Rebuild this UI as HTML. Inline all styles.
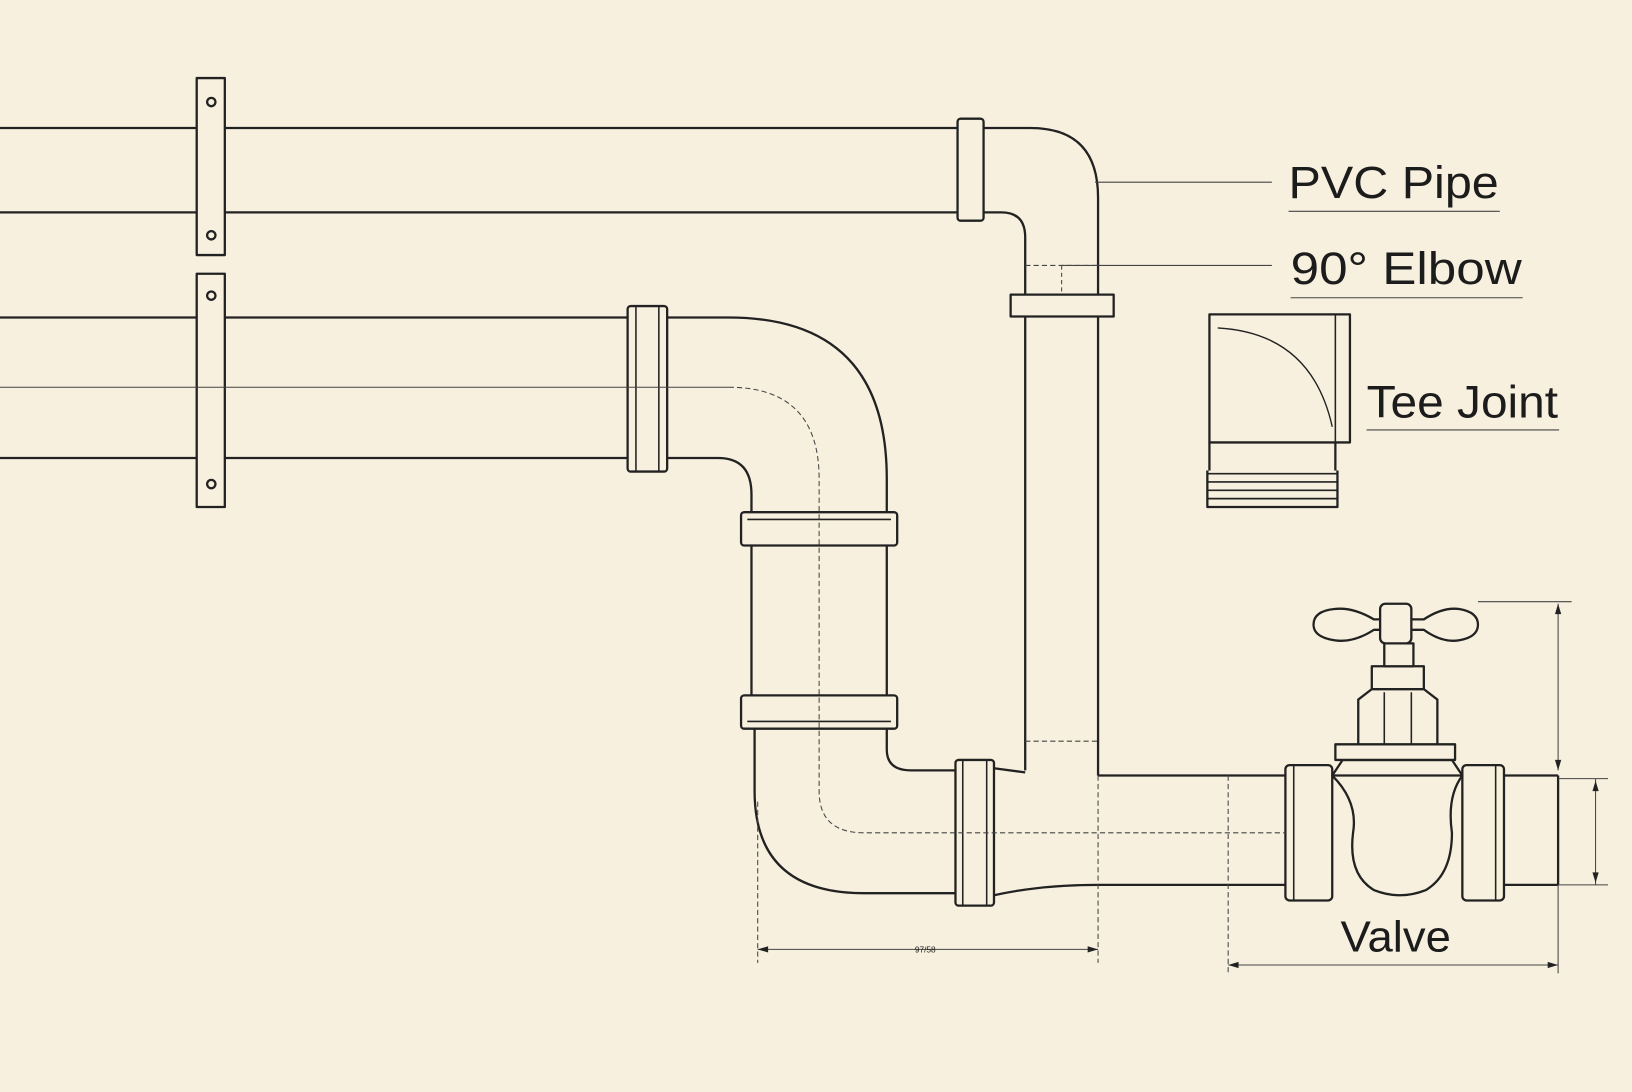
<!DOCTYPE html>
<html><head><meta charset="utf-8"><style>
html,body{margin:0;padding:0;background:#f7f0de;}
svg{display:block}
text{font-family:"Liberation Sans",sans-serif;fill:#1c1c1c}
</style></head><body>
<svg width="1632" height="1092" viewBox="0 0 1568 1049" preserveAspectRatio="none" xmlns="http://www.w3.org/2000/svg">
<rect width="1568" height="1049" fill="#f7f0de"/>
<g fill="none" stroke="#222" stroke-width="2.2" stroke-linejoin="round">
<line x1="0" y1="123" x2="920" y2="123"/>
<line x1="0" y1="204" x2="920" y2="204"/>
<rect x="189" y="75" width="27" height="170" fill="#f7f0de"/>
<circle cx="203" cy="98" r="4"/><circle cx="203" cy="226" r="4"/>
<rect x="920" y="114" width="25" height="98" rx="3" fill="#f7f0de"/>
<path d="M945 123 L990 123 Q1055 123 1055 190 L1055 745"/>
<path d="M945 204 L962 204 Q985 204 985 228 L985 740"/>
<rect x="971" y="283" width="99" height="21" fill="#f7f0de"/>
<line x1="0" y1="305" x2="603" y2="305"/>
<line x1="0" y1="440" x2="603" y2="440"/>
<rect x="189" y="263" width="27" height="224" fill="#f7f0de"/>
<circle cx="203" cy="284" r="4"/><circle cx="203" cy="465" r="4"/>
<rect x="603" y="294" width="38" height="159" rx="3" fill="#f7f0de"/>
<line x1="611" y1="294" x2="611" y2="453" stroke-width="1.5"/>
<line x1="633" y1="294" x2="633" y2="453" stroke-width="1.5"/>
<path d="M641 305 L700 305 Q852 305 852 460 L852 492"/>
<path d="M641 440 L690 440 Q722 440 722 475 L722 492"/>
<rect x="712" y="492" width="150" height="32" rx="3" fill="#f7f0de"/>
<line x1="718" y1="499" x2="856" y2="499" stroke-width="1.5"/>
<line x1="722" y1="524" x2="722" y2="668"/>
<line x1="852" y1="524" x2="852" y2="668"/>
<rect x="712" y="668" width="150" height="32" rx="3" fill="#f7f0de"/>
<line x1="718" y1="693" x2="856" y2="693" stroke-width="1.5"/>
<path d="M725 700 L725 760 Q725 858 830 858 L918 858"/>
<path d="M852 700 L852 720 Q852 740 875 740 L918 740"/>
<rect x="918" y="730" width="37" height="140" rx="3" fill="#f7f0de"/>
<line x1="925" y1="730" x2="925" y2="870" stroke-width="1.5"/>
<line x1="948" y1="730" x2="948" y2="870" stroke-width="1.5"/>
<path d="M955 738 L985 742 M1055 745 L1235 745"/>
<path d="M955 860 Q1000 850 1055 850 L1235 850"/>
<rect x="1235" y="735" width="45" height="130" rx="4" fill="#f7f0de"/>
<line x1="1243" y1="735" x2="1243" y2="865" stroke-width="1.5"/>
<rect x="1405" y="735" width="40" height="130" rx="4" fill="#f7f0de"/>
<line x1="1437" y1="735" x2="1437" y2="865" stroke-width="1.5"/>
<path d="M1280 745 Q1305 770 1300 800 Q1295 840 1320 855 Q1345 865 1370 855 Q1395 840 1395 800 Q1390 765 1405 745"/>
<path d="M1290 730 L1395 730 L1405 745 L1280 745 Z" fill="#f7f0de"/>
<rect x="1283" y="715" width="115" height="15" fill="#f7f0de"/>
<path d="M1305 715 L1305 672 L1318 662 L1368 662 L1381 672 L1381 715 Z" fill="#f7f0de"/>
<line x1="1330" y1="665" x2="1330" y2="715" stroke-width="1.5"/>
<line x1="1356" y1="665" x2="1356" y2="715" stroke-width="1.5"/>
<rect x="1318" y="640" width="50" height="22" fill="#f7f0de"/>
<rect x="1330" y="618" width="28" height="22" fill="#f7f0de"/>
<path d="M1320 605 Q1300 618 1282 615 Q1262 612 1262 600 Q1262 587 1282 585 Q1300 583 1320 595 L1368 595 Q1386 583 1402 585 Q1420 588 1420 600 Q1420 612 1402 615 Q1386 618 1368 605 Z" fill="#f7f0de"/>
<rect x="1326" y="580" width="30" height="38" rx="5" fill="#f7f0de"/>
<line x1="1445" y1="745" x2="1497" y2="745"/>
<line x1="1445" y1="850" x2="1497" y2="850"/>
<line x1="1497" y1="745" x2="1497" y2="850"/>
<rect x="1162" y="302" width="135" height="123" fill="#f7f0de"/>
<line x1="1283" y1="302" x2="1283" y2="425" stroke-width="1.5"/>
<path d="M1170 315 Q1260 320 1280 410" stroke-width="1.3"/>
<line x1="1162" y1="425" x2="1162" y2="452"/>
<line x1="1283" y1="425" x2="1283" y2="452"/>
<path d="M1160 455 L1285 455 M1160 463 L1285 463 M1160 471 L1285 471 M1160 479 L1285 479" stroke-width="1.6"/>
<path d="M1160 452 L1160 487 L1285 487 L1285 452"/>
</g>
<g fill="none" stroke="#444" stroke-width="1">
<line x1="0" y1="372" x2="700" y2="372"/>
<path d="M700 372 Q787 372 787 460 L787 760 Q787 800 830 800 L1235 800" stroke-dasharray="5 3"/>
<line x1="985" y1="255" x2="1055" y2="255" stroke-dasharray="5 3"/>
<line x1="1020" y1="255" x2="1020" y2="283" stroke-dasharray="4 3"/>
<line x1="985" y1="712" x2="1055" y2="712" stroke-dasharray="5 3"/>
<line x1="1055" y1="745" x2="1055" y2="925" stroke-dasharray="5 3"/>
<line x1="1180" y1="745" x2="1180" y2="935" stroke-dasharray="5 3"/>
<line x1="728" y1="770" x2="728" y2="925" stroke-dasharray="5 3"/>
<line x1="1052" y1="175" x2="1222" y2="175"/>
<line x1="1020" y1="255" x2="1222" y2="255"/>
<line x1="1238" y1="203" x2="1441" y2="203"/>
<line x1="1240" y1="286" x2="1463" y2="286"/>
<line x1="1313" y1="413" x2="1498" y2="413"/>
<line x1="728" y1="912" x2="1055" y2="912"/>
<line x1="1180" y1="927" x2="1497" y2="927"/>
<line x1="1497" y1="850" x2="1497" y2="935"/>
<line x1="1497" y1="580" x2="1497" y2="740"/>
<line x1="1420" y1="578" x2="1510" y2="578"/>
<line x1="1533" y1="748" x2="1533" y2="850"/>
<line x1="1497" y1="748" x2="1545" y2="748"/>
<line x1="1497" y1="850" x2="1545" y2="850"/>
</g>
<g fill="#222">
<path d="M728 912 l10 -3 l0 6 z"/><path d="M1055 912 l-10 -3 l0 6 z"/>
<path d="M1180 927 l10 -3 l0 6 z"/><path d="M1497 927 l-10 -3 l0 6 z"/>
<path d="M1497 580 l-3 10 l6 0 z"/><path d="M1497 740 l-3 -10 l6 0 z"/>
<path d="M1533 750 l-3 10 l6 0 z"/><path d="M1533 848 l-3 -10 l6 0 z"/>
</g>
<text x="1238" y="190" font-size="44" textLength="202" lengthAdjust="spacingAndGlyphs">PVC Pipe</text>
<text x="1240" y="273" font-size="44" textLength="222" lengthAdjust="spacingAndGlyphs">90° Elbow</text>
<text x="1313" y="401" font-size="44" textLength="184" lengthAdjust="spacingAndGlyphs">Tee Joint</text>
<text x="1288" y="914" font-size="42" textLength="106" lengthAdjust="spacingAndGlyphs">Valve</text>
<text x="879" y="915" font-size="8" fill="#555">97/58</text>
</svg>
</body></html>
